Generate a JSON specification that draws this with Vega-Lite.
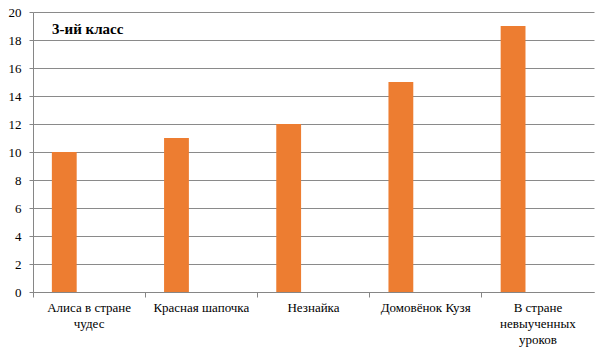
{
  "$schema": "https://vega.github.io/schema/vega-lite/v6.json",
  "width": 561,
  "height": 280,
  "autosize": {"type": "none"},
  "padding": {"left": 33, "top": 12, "right": 8, "bottom": 63},
  "background": "white",
  "title": {
    "text": "3-ий класс",
    "anchor": "start",
    "frame": "group",
    "orient": "top",
    "offset": -43,
    "dx": 19,
    "baseline": "alphabetic",
    "font": "Times New Roman, Liberation Serif, serif",
    "fontSize": 15,
    "fontWeight": "bold",
    "color": "#000000"
  },
  "data": {
    "values": [
      {"book": "Алиса в стране|чудес", "series": "a", "value": 10},
      {"book": "Красная шапочка", "series": "a", "value": 11},
      {"book": "Незнайка", "series": "a", "value": 12},
      {"book": "Домовёнок Кузя", "series": "a", "value": 15},
      {"book": "В стране|невыученных|уроков", "series": "a", "value": 19}
    ]
  },
  "mark": {"type": "bar", "color": "#ED7D31"},
  "encoding": {
    "x": {
      "field": "book",
      "type": "nominal",
      "sort": null,
      "scale": {"paddingInner": 0, "paddingOuter": 0},
      "axis": {
        "title": null,
        "labelAngle": 0,
        "labelExpr": "split(datum.label, '|')",
        "labelFont": "Times New Roman, Liberation Serif, serif",
        "labelFontSize": 13,
        "labelColor": "#000000",
        "labelLineHeight": 16,
        "labelPadding": 4,
        "bandPosition": 0,
        "tickSize": 5,
        "tickColor": "#868686",
        "domainColor": "#868686",
        "grid": false,
        "labelLimit": 200
      }
    },
    "xOffset": {
      "field": "series",
      "type": "nominal",
      "scale": {"domain": ["a", "b", "c"], "paddingInner": 0, "paddingOuter": 0.76},
      "legend": null
    },
    "y": {
      "field": "value",
      "type": "quantitative",
      "scale": {"domain": [0, 20], "nice": false},
      "axis": {
        "title": null,
        "values": [0, 2, 4, 6, 8, 10, 12, 14, 16, 18, 20],
        "labelFont": "Times New Roman, Liberation Serif, serif",
        "labelFontSize": 13,
        "labelColor": "#000000",
        "labelPadding": 8,
        "tickSize": 4,
        "tickColor": "#868686",
        "domainColor": "#868686",
        "gridColor": "#8a8a8a",
        "grid": true
      }
    }
  },
  "config": {
    "view": {"stroke": null},
    "axis": {"domainWidth": 1, "tickWidth": 1, "gridWidth": 1}
  }
}
